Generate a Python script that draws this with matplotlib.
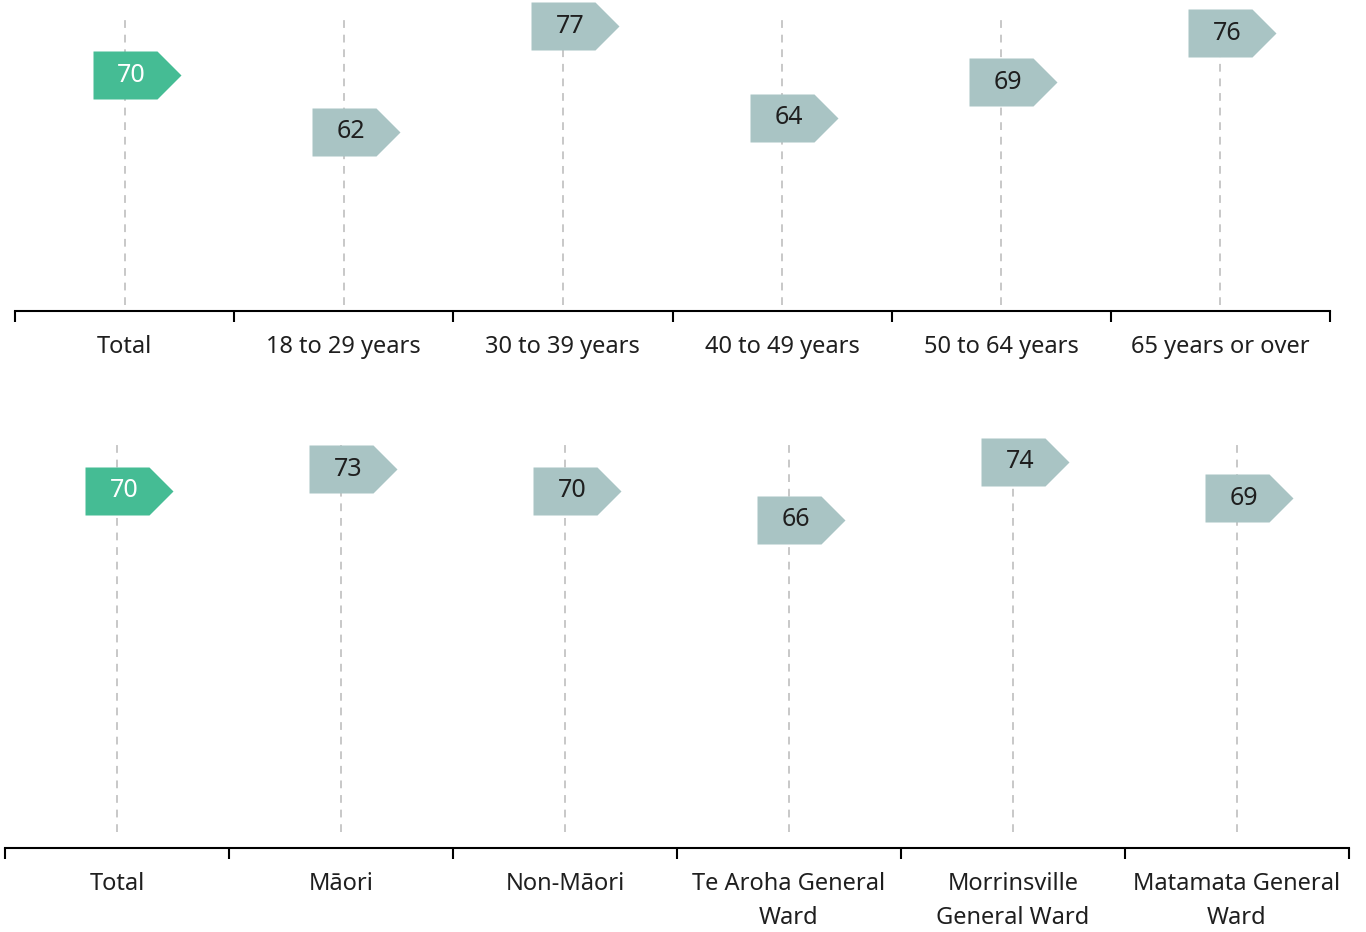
"""Pentagon-marker dot chart: scores by age group and by ward/ethnicity."""

import matplotlib.pyplot as plt
from matplotlib.path import Path

# Data
AGE_GROUPS = ["Total", "18 to 29 years", "30 to 39 years", "40 to 49 years",
              "50 to 64 years", "65 years or over"]
AGE_VALUES = [70, 62, 77, 64, 69, 76]

WARD_GROUPS = ["Total", "Māori", "Non-Māori", "Te Aroha General\nWard",
               "Morrinsville\nGeneral Ward", "Matamata General\nWard"]
WARD_VALUES = [70, 73, 70, 66, 74, 69]

# Colours
TOTAL_COLOR = "#45BC94"
OTHER_COLOR = "#A9C4C4"
DASH_COLOR = "#C8C8C8"
TEXT_COLOR = "#1F1F1F"

plt.rcParams["font.family"] = ["Noto Sans", "DejaVu Sans"]

# Pentagon "tag" shape: rectangle with an arrow point on the right
TAG = Path([(-32, -24), (32, -24), (56, 0), (32, 24), (-32, 24), (-32, -24)],
           [Path.MOVETO, Path.LINETO, Path.LINETO, Path.LINETO, Path.LINETO,
            Path.CLOSEPOLY])
TAG_SIZE = 112 * 72 / 100  # longest half-extent is 56 px


def draw_panel(ax, groups, values, ylim, line_span, linespacing=1.2):
    n = len(groups)
    xs = [i + 0.5 for i in range(n)]

    # dashed guide lines behind the markers
    for x in xs:
        ax.axvline(x, ymin=line_span[0], ymax=line_span[1], color=DASH_COLOR,
                   linestyle=(0, (4, 3.5)), linewidth=1.4, zorder=1)

    for i, (x, v) in enumerate(zip(xs, values)):
        face = TOTAL_COLOR if i == 0 else OTHER_COLOR
        ax.plot(x, v, marker=TAG, markersize=TAG_SIZE, markerfacecolor=face,
                markeredgewidth=0, linestyle="none", zorder=3)
        ax.annotate(f"{v}", (x, v), xytext=(5, 0), textcoords="offset points",
                    ha="center", va="center", fontsize=18,
                    color="white" if i == 0 else TEXT_COLOR, zorder=4)

    ax.set_xlim(0, n)
    ax.set_ylim(*ylim)

    for side in ("top", "right", "left"):
        ax.spines[side].set_visible(False)
    ax.spines["bottom"].set_linewidth(1.5)
    ax.spines["bottom"].set_color("black")
    ax.set_yticks([])

    # boundary ticks (major) and category labels (minor)
    ax.set_xticks(range(n + 1))
    ax.set_xticklabels([])
    ax.tick_params(axis="x", which="major", length=8, width=1.5, direction="out")
    ax.set_xticks(xs, minor=True)
    ax.set_xticklabels(groups, minor=True, fontsize=17, color=TEXT_COLOR)
    ax.tick_params(axis="x", which="minor", length=0, pad=17)
    for lbl in ax.get_xticklabels(minor=True):
        lbl.set_linespacing(linespacing)
    ax.patch.set_alpha(0)


fig = plt.figure(figsize=(13.66, 9.32), dpi=100)
W, H = 1366, 932

# top panel: spine at y=311 px, x 15..1330
ax_top = fig.add_axes([15 / W, 1 - 311 / H, 1315 / W, 311 / H])
draw_panel(ax_top, AGE_GROUPS, AGE_VALUES, (36.5, 80.7),
           (6 / 311, 291 / 311))

# bottom panel: spine at y=848 px, x 5..1349
ax_bot = fig.add_axes([5 / W, 1 - 848 / H, 1344 / W, 448 / H])
draw_panel(ax_bot, WARD_GROUPS, WARD_VALUES, (20.9, 82.5),
           (16 / 448, 403 / 448), linespacing=1.6)

fig.savefig("out.png", dpi=100)
plt.close(fig)
